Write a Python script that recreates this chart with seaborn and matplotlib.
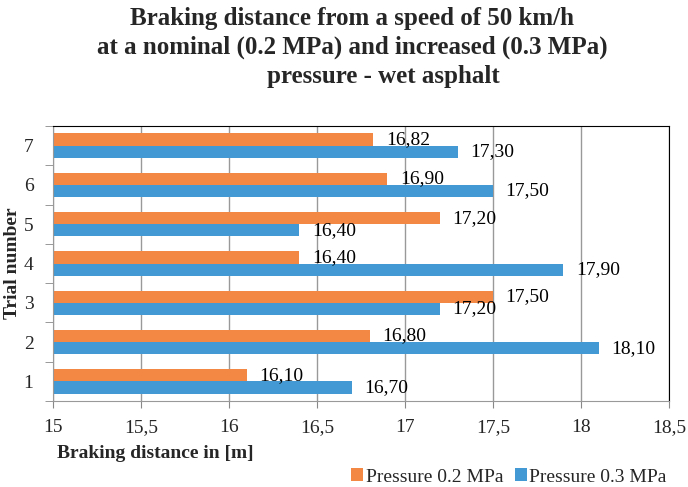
import pandas as pd
import seaborn as sns
import matplotlib.pyplot as plt

# values
trials = ['1', '2', '3', '4', '5', '6', '7']
p02 = [16.10, 16.80, 17.50, 16.40, 17.20, 16.90, 16.82]
p03 = [16.70, 18.10, 17.20, 17.90, 16.40, 17.50, 17.30]
series = ['Pressure 0.2 MPa', 'Pressure 0.3 MPa']
xticks = [15, 15.5, 16, 16.5, 17, 17.5, 18, 18.5]

df = pd.DataFrame({
    'trial': trials * 2,
    'distance': p02 + p03,
    'series': [series[0]] * len(trials) + [series[1]] * len(trials),
})

sns.set_style('white')
plt.rcParams['font.family'] = ['Liberation Serif', 'DejaVu Serif']

fig = plt.figure(figsize=(6.88, 4.87), dpi=100)
ax = fig.add_axes([53 / 688, 1 - 401 / 487, (669 - 53) / 688, (401 - 126) / 487])

sns.barplot(data=df, y='trial', x='distance', hue='series', orient='h',
            order=trials[::-1], hue_order=series, saturation=1,
            palette=['#F38744', '#4299D3'], width=0.62, ax=ax,
            edgecolor='none', legend=True)

# labels with comma decimals
for cont, vals in zip(ax.containers, [p02, p03]):
    lab = dict(zip(trials, vals))
    ax.bar_label(cont, labels=[('%.2f' % lab[t]).replace('.', ',') for t in trials[::-1]],
                 padding=9, fontsize=14, color='black')

ax.set_xlim(15, 18.5)
ax.set_xticks(xticks)
ax.set_xticklabels([('%g' % v).replace('.', ',') for v in xticks], fontsize=14)
ax.tick_params(axis='x', pad=8, length=5, color='#888888', bottom=True, direction='out')
ax.tick_params(axis='y', labelsize=14, length=0, pad=14)
ax.set_yticks(range(7))
ax.set_yticks([i + 0.5 for i in range(-1, 7)], minor=True)
ax.tick_params(axis='y', which='minor', left=True, length=6, color='#888888')
ax.grid(axis='x', color='#999999', linewidth=1)
ax.set_axisbelow(True)

for s in ['left', 'bottom']:
    ax.spines[s].set_color('#999999')
for s in ['top', 'right']:
    ax.spines[s].set_color('black')

ax.set_xlabel('')
ax.set_ylabel('Trial number', fontsize=14, fontweight='bold', labelpad=2)
fig.text(57 / 688, 1 - 453 / 487, 'Braking distance in [m]', fontsize=14,
         fontweight='bold', va='center', ha='left')

handles, labels = ax.get_legend_handles_labels()
ax.get_legend().remove()
fig.legend(handles, labels, loc='center', bbox_to_anchor=(509 / 688, 1 - 477 / 487),
           ncol=2, frameon=False, fontsize=14, handlelength=0.6, handleheight=0.6,
           handletextpad=0.15, columnspacing=0.6)

title_lines = ['Braking distance from a speed of 50 km/h',
               'at a nominal (0.2 MPa) and increased (0.3 MPa)',
               'pressure - wet asphalt']
title_x = [352, 352, 383]
title_y = [19, 47, 76]
for t, x, y in zip(title_lines, title_x, title_y):
    fig.text(x / 688, 1 - y / 487, t, fontsize=18, fontweight='bold',
             ha='center', va='center')

plt.savefig('out.png', dpi=100)
